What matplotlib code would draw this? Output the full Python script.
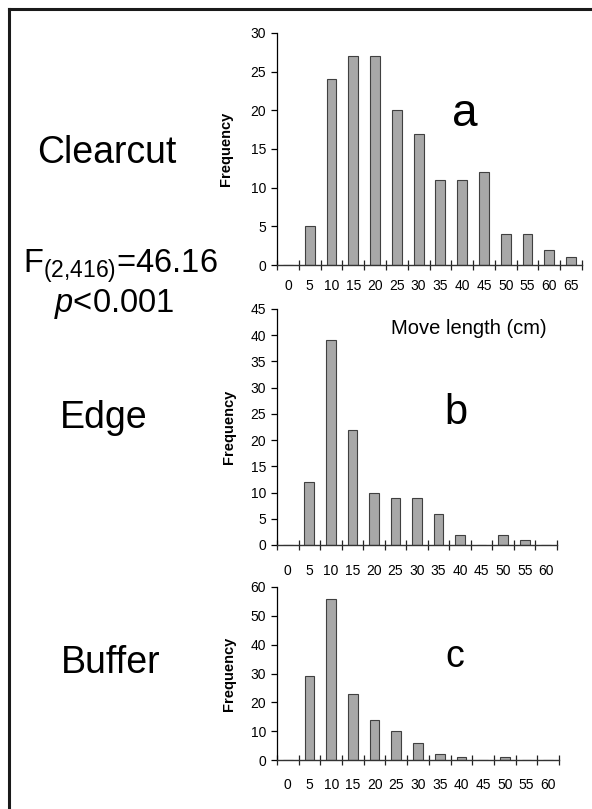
import numpy as np
import matplotlib
matplotlib.use("Agg")
import matplotlib.pyplot as plt
from matplotlib.lines import Line2D

plt.rcParams['font.family'] = ['Liberation Sans', 'DejaVu Sans']
plt.rcParams['mathtext.fontset'] = 'custom'
plt.rcParams['mathtext.rm'] = 'Liberation Sans'
plt.rcParams['mathtext.it'] = 'Liberation Sans:italic'

# data: move length bins (cm) and counts
bins_a = ['0', '5', '10', '15', '20', '25', '30', '35', '40', '45', '50', '55', '60', '65']
clearcut = [0, 5, 24, 27, 27, 20, 17, 11, 11, 12, 4, 4, 2, 1]

bins_bc = ['0', '5', '10', '15', '20', '25', '30', '35', '40', '45', '50', '55', '60']
edge = [0, 12, 39, 22, 10, 9, 9, 6, 2, 0, 2, 1, 0]
buffer_ = [0, 29, 56, 23, 14, 10, 6, 2, 1, 0, 1, 0, 0]

W, H = 592, 809
fig = plt.figure(figsize=(W / 100, H / 100), dpi=100)


def px_axes(left, right, top, bottom):
    return fig.add_axes([left / W, 1 - bottom / H, (right - left) / W, (bottom - top) / H])


def draw_panel(ax, cats, vals, ymax, ystep, xpad):
    n = len(cats)
    x = np.arange(n)
    ax.bar(x, vals, width=0.45, color='#a8a8a8', edgecolor='#404040', linewidth=0.8)
    ax.set_xlim(-0.5, n - 0.5)
    ax.set_ylim(0, ymax)
    ax.set_yticks(np.arange(0, ymax + 1, ystep))
    ax.set_xticks(x)
    ax.set_xticklabels(cats)
    ax.set_xticks(np.arange(-0.5, n, 1), minor=True)
    ax.tick_params(axis='x', which='major', length=0, pad=xpad, labelsize=10)
    ax.tick_params(axis='x', which='minor', direction='inout', length=7, width=0.9, color='#222222')
    ax.tick_params(axis='y', direction='out', length=4, width=0.9, pad=4, labelsize=10)
    for s in ['top', 'right']:
        ax.spines[s].set_visible(False)
    ax.spines['left'].set_linewidth(0.9)
    ax.spines['bottom'].set_linewidth(1.0)
    ax.spines['bottom'].set_color('#333333')
    ax.set_ylabel('Frequency', fontsize=10.5, fontweight='bold')
    ax.yaxis.set_label_coords(-0.145, 0.5)


ax1 = px_axes(277, 582, 33, 265)
draw_panel(ax1, bins_a, clearcut, 30, 5, 10)
ax2 = px_axes(277, 557, 309, 545)
draw_panel(ax2, bins_bc, edge, 45, 5, 14)
ax3 = px_axes(277, 559, 587, 760)
draw_panel(ax3, bins_bc, buffer_, 60, 10, 13)


def ftext(x, y, s, size, **kw):
    fig.text(x / W, 1 - y / H, s, fontsize=size, ha='center', va='center', **kw)


ftext(107, 153, 'Clearcut', 27)
ftext(104, 418, 'Edge', 27)
ftext(111, 663, 'Buffer', 27)
ftext(120, 266, r'F$_{(2{,}416)}$=46.16', 23.5)
ftext(114, 304, r'$\it{p}$<0.001', 23.5)

ftext(465, 114, 'a', 33)
ftext(456, 413, 'b', 30)
ftext(455, 657, 'c', 27)
ftext(469, 328, 'Move length (cm)', 14.5)

# frame lines along top and left edge
fig.add_artist(Line2D([9 / W, 1], [1 - 9 / H, 1 - 9 / H], transform=fig.transFigure,
                      color='#1a1a1a', linewidth=2.2))
fig.add_artist(Line2D([9 / W, 9 / W], [0, 1 - 9 / H], transform=fig.transFigure,
                      color='#1a1a1a', linewidth=2.2))

fig.savefig('out.png', dpi=100)
